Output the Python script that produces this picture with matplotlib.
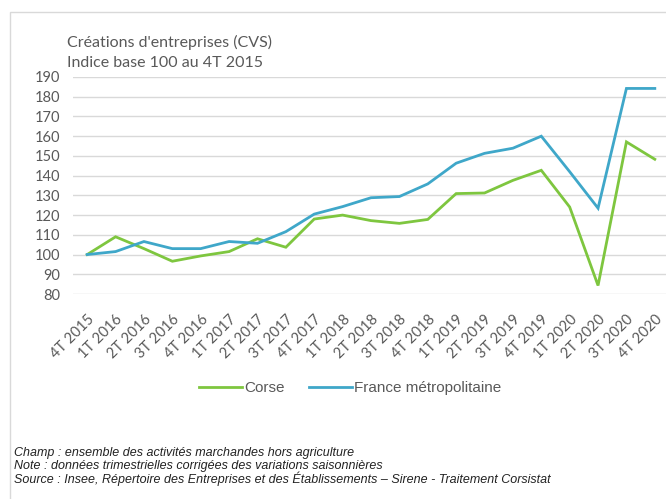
import matplotlib
matplotlib.use("Agg")
import matplotlib.pyplot as plt
from matplotlib.patches import Rectangle

# quarters (x axis)
quarters = ["4T 2015",
            "1T 2016", "2T 2016", "3T 2016", "4T 2016",
            "1T 2017", "2T 2017", "3T 2017", "4T 2017",
            "1T 2018", "2T 2018", "3T 2018", "4T 2018",
            "1T 2019", "2T 2019", "3T 2019", "4T 2019",
            "1T 2020", "2T 2020", "3T 2020", "4T 2020"]

corse = [100, 109, 103, 96.6, 99.3, 101.5, 108, 103.7, 118, 120,
         117.2, 115.8, 117.8, 130.9, 131.2, 137.6, 142.7, 124.1, 84.3, 157.1, 148.3]
france = [100, 101.5, 106.6, 103, 103, 106.6, 105.7, 111.6, 120.5, 124.3,
          128.8, 129.4, 135.8, 146.3, 151.3, 153.9, 160, 142, 123.5, 184.2, 184.2]

yticks = list(range(80, 191, 10))

GREEN = "#7ec63f"
BLUE = "#3fa7c9"
GREY = "#595959"

fig = plt.figure(figsize=(6.66, 4.99), dpi=100)
W, H = 666, 499

# light frame around the chart
fig.patches.append(Rectangle((10 / W, -0.05), 1.0, (H - 12) / H + 0.05,
                             transform=fig.transFigure, fill=False,
                             edgecolor="#d9d9d9", linewidth=1.0))

ax = fig.add_axes([73 / W, 205 / H, (669 - 73) / W, (294 - 77) / H])
x = list(range(len(quarters)))
ax.plot(x, corse, color=GREEN, linewidth=2.0, label="Corse", solid_joinstyle="miter")
ax.plot(x, france, color=BLUE, linewidth=2.0, label="France métropolitaine",
        solid_joinstyle="miter")

ax.set_xlim(-0.5, len(quarters) - 0.5)
ax.set_ylim(80, 190)
ax.set_yticks(yticks)
ax.set_xticks(x)
ax.set_xticklabels(quarters, rotation=45, ha="right", va="top",
                   rotation_mode="anchor")
ax.tick_params(axis="both", length=0, colors=GREY, labelsize=10.5)
ax.tick_params(axis="x", pad=13)
ax.tick_params(axis="y", pad=9)
for lab in ax.get_xticklabels() + ax.get_yticklabels():
    lab.set_family("Lato")
ax.grid(axis="y", color="#d9d9d9", linewidth=1.0)
ax.set_axisbelow(True)
for s in ax.spines.values():
    s.set_visible(False)
ax.patch.set_visible(False)

fig.text(67 / W, 1 - 42 / H, "Créations d'entreprises (CVS)", color=GREY,
         fontsize=11.5, family="Lato", va="center")
fig.text(67 / W, 1 - 63 / H, "Indice base 100 au 4T 2015", color=GREY,
         fontsize=11.5, family="Lato", va="center")

fig.legend(loc="center", bbox_to_anchor=(350 / W, 1 - 388 / H), ncol=2,
           frameon=False, handlelength=2.8, handletextpad=0.15, columnspacing=1.6,
           prop={"family": "Liberation Sans", "size": 11}, labelcolor=GREY)

notes = ["Champ : ensemble des activités marchandes hors agriculture",
         "Note : données trimestrielles corrigées des variations saisonnières",
         "Source : Insee, Répertoire des Entreprises et des Établissements – Sirene - Traitement Corsistat"]
for i, t in enumerate(notes):
    fig.text(14 / W, 1 - (453 + 13 * i) / H, t, fontsize=9.0, style="italic",
             family="Liberation Sans", color="#222222", va="center")

fig.savefig("out.png", dpi=100)
